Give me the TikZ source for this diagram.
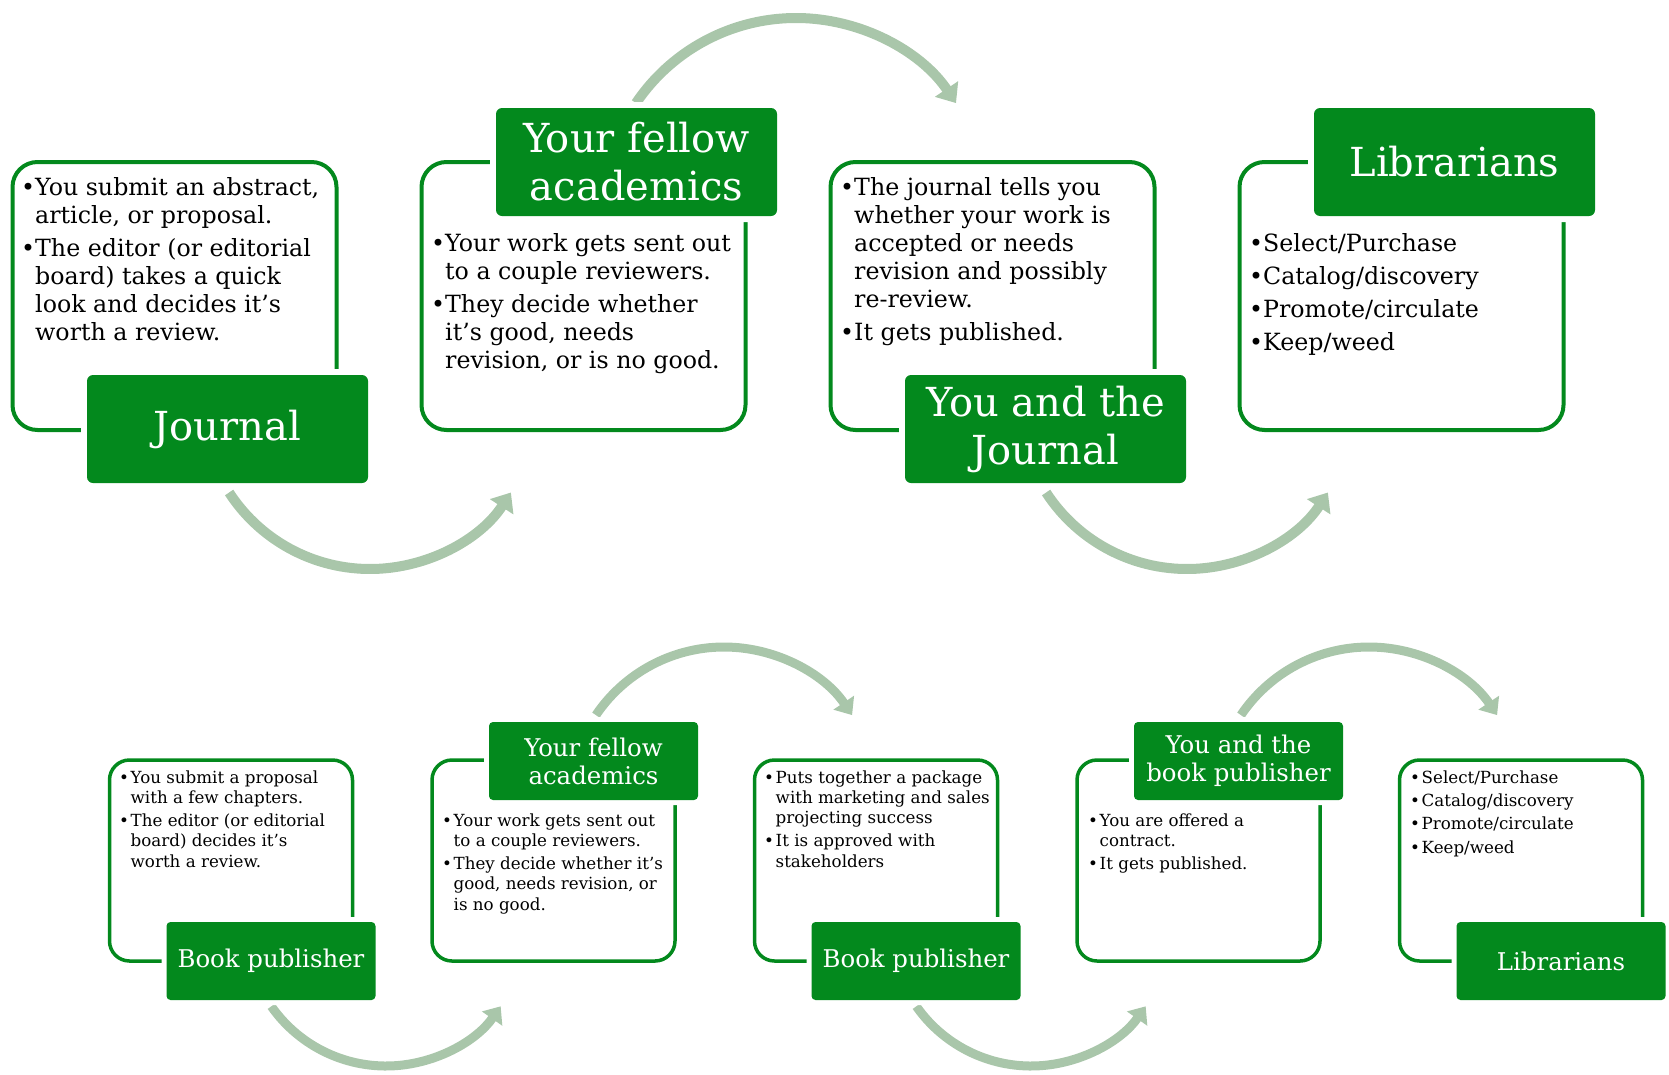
\documentclass[tikz,border=0pt]{standalone}
\usepackage{fontspec}
\setmainfont{DejaVu Serif}
\usetikzlibrary{arrows.meta}
\definecolor{dg}{RGB}{3,137,29}
\definecolor{sage}{RGB}{169,198,170}
\newcommand{\bl}{\textbullet}
\tikzset{
  outl/.style={draw=dg, line width=4pt, rounded corners=25pt, inner sep=0pt, minimum width=324pt, minimum height=268pt},
  outlb/.style={draw=dg, line width=3.5pt, rounded corners=20pt, inner sep=0pt, minimum width=243pt, minimum height=201pt},
  lab/.style={fill=dg, text=white, rounded corners=6pt, inner sep=0pt, align=center,
    minimum width=281pt, minimum height=108pt, font=\fontsize{40}{48}\selectfont,
    preaction={draw=white, line width=12pt}},
  labb/.style={fill=dg, text=white, rounded corners=4pt, inner sep=0pt, align=center,
    minimum width=209pt, minimum height=78pt, font=\fontsize{24.4}{28}\selectfont,
    preaction={draw=white, line width=10pt}},
  body/.style={anchor=base west, inner sep=0pt, font=\fontsize{23.7}{28}\selectfont},
  bodyb/.style={anchor=base west, inner sep=0pt, font=\fontsize{16.7}{20.2}\selectfont},
  flow/.style={draw=sage, line width=10pt, -{Triangle[length=17pt,width=27pt]}},
  flowb/.style={draw=sage, line width=9pt, -{Triangle[length=15pt,width=24pt]}},
}
\begin{document}
\begin{tikzpicture}[x=1pt,y=-1pt]
\useasboundingbox (0,0) rectangle (1669,1074);
% arc centres
\coordinate (a1) at (370,401);
\coordinate (a2) at (796,211);
\coordinate (a3) at (1187,401);
\coordinate (b1) at (386,926);
\coordinate (b2) at (724,801.5);
\coordinate (b3) at (1031,926);
\coordinate (b4) at (1369,801.5);
% arrows
\draw[flow] ([shift={(147:168)}]a1) arc[start angle=147, end angle=33, radius=168];
\draw[flow] ([shift={(214:193)}]a2) arc[start angle=214, end angle=326, radius=193];
\draw[flow] ([shift={(147:168)}]a3) arc[start angle=147, end angle=33, radius=168];
\draw[flowb] ([shift={(145:140)}]b1) arc[start angle=145, end angle=35, radius=140];
\draw[flowb] ([shift={(214:154.5)}]b2) arc[start angle=214, end angle=326, radius=154.5];
\draw[flowb] ([shift={(145:140)}]b3) arc[start angle=145, end angle=35, radius=140];
\draw[flowb] ([shift={(214:154.5)}]b4) arc[start angle=214, end angle=326, radius=154.5];
% top row outlines
\node[outl] (o1) at (174.5,296) {};
\node[outl] (o2) at (583.5,296) {};
\node[outl] (o3) at (992.5,296) {};
\node[outl] (o4) at (1401.5,296) {};
% bottom row outlines
\node[outlb] (p1) at (231,860.5) {};
\node[outlb] (p2) at (553.5,860.5) {};
\node[outlb] (p3) at (876,860.5) {};
\node[outlb] (p4) at (1198.5,860.5) {};
\node[outlb] (p5) at (1521,860.5) {};
% top texts
\node[body] (t1) at (21,195) {\begin{tabular}[t]{@{}p{14pt}@{}l@{}}
\bl & You submit an abstract,\\
    & article, or proposal.\\[5pt]
\bl & The editor (or editorial\\
    & board) takes a quick\\
    & look and decides it’s\\
    & worth a review.
\end{tabular}};
\node[body] (t2) at (431,251) {\begin{tabular}[t]{@{}p{14pt}@{}l@{}}
\bl & Your work gets sent out\\
    & to a couple reviewers.\\[5pt]
\bl & They decide whether\\
    & it’s good, needs\\
    & revision, or is no good.
\end{tabular}};
\node[body] (t3) at (840,195) {\begin{tabular}[t]{@{}p{14pt}@{}l@{}}
\bl & The journal tells you\\
    & whether your work is\\
    & accepted or needs\\
    & revision and possibly\\
    & re-review.\\[5pt]
\bl & It gets published.
\end{tabular}};
\node[body] (t4) at (1249,251) {\begin{tabular}[t]{@{}p{14pt}@{}l@{}}
\bl & Select/Purchase\\[5pt]
\bl & Catalog/discovery\\[5pt]
\bl & Promote/circulate\\[5pt]
\bl & Keep/weed
\end{tabular}};
% bottom texts
\node[bodyb] (s1) at (119,783) {\begin{tabular}[t]{@{}p{11.5pt}@{}l@{}}
\bl & You submit a proposal\\
    & with a few chapters.\\[3.2pt]
\bl & The editor (or editorial\\
    & board) decides it’s\\
    & worth a review.
\end{tabular}};
\node[bodyb] (s2) at (442,826) {\begin{tabular}[t]{@{}p{11.5pt}@{}l@{}}
\bl & Your work gets sent out\\
    & to a couple reviewers.\\[3.2pt]
\bl & They decide whether it’s\\
    & good, needs revision, or\\
    & is no good.
\end{tabular}};
\node[bodyb] (s3) at (764,783) {\begin{tabular}[t]{@{}p{11.5pt}@{}l@{}}
\bl & Puts together a package\\
    & with marketing and sales\\
    & projecting success\\[3.2pt]
\bl & It is approved with\\
    & stakeholders
\end{tabular}};
\node[bodyb] (s4) at (1088,826) {\begin{tabular}[t]{@{}p{11.5pt}@{}l@{}}
\bl & You are offered a\\
    & contract.\\[3.2pt]
\bl & It gets published.
\end{tabular}};
\node[bodyb] (s5) at (1410,783) {\begin{tabular}[t]{@{}p{11.5pt}@{}l@{}}
\bl & Select/Purchase\\[3.2pt]
\bl & Catalog/discovery\\[3.2pt]
\bl & Promote/circulate\\[3.2pt]
\bl & Keep/weed
\end{tabular}};
% top labels
\node[lab] (l1) at (227.5,429) {Journal};
\node[lab] (l2) at (636.5,162) {Your fellow\\academics};
\node[lab] (l3) at (1045.5,429) {You and the\\Journal};
\node[lab] (l4) at (1454.5,162) {Librarians};
% bottom labels
\node[labb] (m1) at (271,961) {Book publisher};
\node[labb] (m2) at (593.5,761) {Your fellow\\academics};
\node[labb] (m3) at (916,961) {Book publisher};
\node[labb] (m4) at (1238.5,761) {You and the\\book publisher};
\node[labb] (m5) at (1561,961) {Librarians};
\end{tikzpicture}
\end{document}
